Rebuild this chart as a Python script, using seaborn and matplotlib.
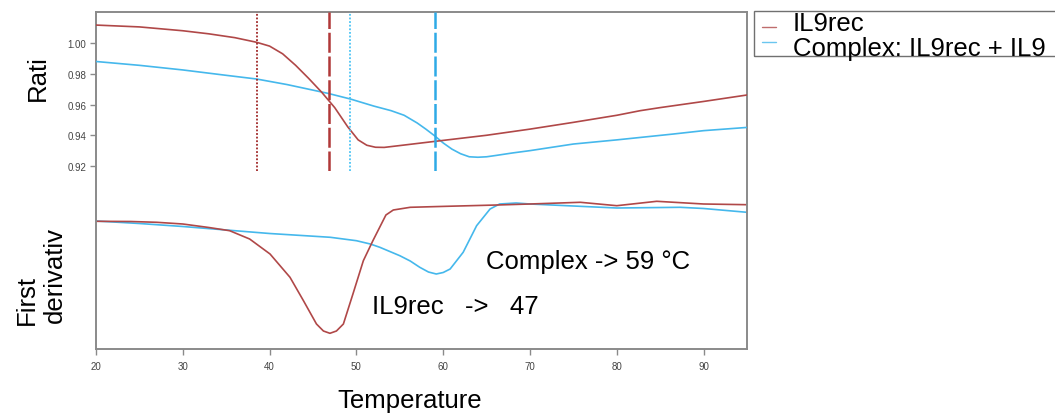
import numpy as np
import pandas as pd
import matplotlib
matplotlib.use("Agg")
import matplotlib.pyplot as plt
import seaborn as sns
from matplotlib.patches import Rectangle
from matplotlib.lines import Line2D

sns.set_theme(style="white")
plt.rcParams['font.family'] = ['Liberation Sans', 'DejaVu Sans']
plt.rcParams['text.color'] = 'black'

# ---------------- data ----------------
series_names = ["IL9rec", "Complex: IL9rec + IL9"]
series_colors = ["#b04848", "#45b8ec"]

ratio_x_il9rec = [20, 25, 30, 33, 36, 38.5, 40, 41.5, 43, 44.5, 46, 47.5, 49, 50.2,
                  51.2, 52.2, 53.2, 55, 59, 65, 70, 75, 80, 82.7, 85, 90, 95]
ratio_y_il9rec = [1.0117, 1.0105, 1.008, 1.006, 1.0035, 1.0005, 0.998, 0.993, 0.9855,
                  0.977, 0.968, 0.958, 0.9455, 0.937, 0.9335, 0.9322, 0.9321, 0.9333,
                  0.936, 0.940, 0.944, 0.9484, 0.953, 0.956, 0.958, 0.962, 0.9662]

ratio_x_complex = [20, 25, 30, 35, 38.5, 42, 46.7, 49.3, 52, 54, 55.5, 57, 58, 59, 60,
                   61, 62, 63, 64, 65, 66, 68, 70, 75, 80, 86.5, 90, 95]
ratio_y_complex = [0.988, 0.9855, 0.9825, 0.979, 0.9766, 0.973, 0.9673, 0.9636, 0.959,
                   0.956, 0.953, 0.948, 0.944, 0.9397, 0.935, 0.931, 0.928, 0.926,
                   0.9257, 0.926, 0.9268, 0.9285, 0.930, 0.9343, 0.937, 0.9408, 0.943,
                   0.9451]

deriv_x_il9rec = [20, 24, 27, 30, 33, 35.4, 37.7, 40.05, 42.35, 43.9, 45.4, 46.2, 46.95,
                  47.7, 48.5, 49.6, 50.8, 51.9, 52.7, 53.4, 54.25, 56.2, 60.4, 66.2, 70,
                  75.8, 80, 84.6, 90, 95]
deriv_y_il9rec = [-0.003, -0.005, -0.013, -0.03, -0.065, -0.097, -0.18, -0.33, -0.563,
                  -0.797, -1.03, -1.10, -1.123, -1.10, -1.03, -0.73, -0.397, -0.197,
                  -0.06, 0.06, 0.11, 0.137, 0.147, 0.16, 0.17, 0.187, 0.153, 0.197,
                  0.17, 0.163]

deriv_x_complex = [20, 25, 30, 35, 40, 45, 47, 50, 51.6, 52.7, 55, 56.2, 57.3, 58.3,
                   59.2, 60, 60.8, 62.3, 63.85, 65.4, 66.5, 68.4, 70, 75, 80, 87.3, 90, 95]
deriv_y_complex = [0.0, -0.025, -0.055, -0.09, -0.125, -0.152, -0.163, -0.197, -0.23,
                   -0.263, -0.347, -0.40, -0.463, -0.51, -0.53, -0.515, -0.48, -0.313,
                   -0.047, 0.12, 0.17, 0.18, 0.17, 0.15, 0.13, 0.137, 0.125, 0.087]

# melting points (onset dotted, Tm dashed)
onset_il9rec, tm_il9rec = 38.5, 46.8
onset_complex, tm_complex = 49.3, 59.05

annot_complex = "Complex -> 59 °C"
annot_il9rec = "IL9rec   ->   47"

x_ticks = [20, 30, 40, 50, 60, 70, 80, 90]
ratio_ticks = [0.92, 0.94, 0.96, 0.98, 1.00]

# ---------------- figure ----------------
W, H = 1055, 414
fig = plt.figure(figsize=(W / 100, H / 100), dpi=100)

def fx(px):
    return px / W

def fy(py):
    return 1 - py / H

L, R, T, B = 96, 747, 13, 350
ax = fig.add_axes([fx(L), fy(B), fx(R) - fx(L), fy(T) - fy(B)])
rt_bottom = 172
axr = fig.add_axes([fx(L), fy(rt_bottom), fx(R) - fx(L), fy(T) - fy(rt_bottom)], sharex=ax)
axr.patch.set_alpha(0)

spine_c = "#8a8a8a"
for s in ax.spines.values():
    s.set_color(spine_c)
    s.set_linewidth(1.4)
for s in axr.spines.values():
    s.set_visible(False)

# derivative curves (main axes)
df_d1 = pd.DataFrame({"x": deriv_x_il9rec, "y": deriv_y_il9rec})
df_d2 = pd.DataFrame({"x": deriv_x_complex, "y": deriv_y_complex})
sns.lineplot(data=df_d2, x="x", y="y", ax=ax, color=series_colors[1], lw=1.2)
sns.lineplot(data=df_d1, x="x", y="y", ax=ax, color=series_colors[0], lw=1.2)
ax.set_ylim(-1.28, 2.09)
ax.set_xlim(20, 95)
ax.set_yticks([])
ax.set_xticks(x_ticks)
ax.set_xticklabels([str(t) for t in x_ticks], fontsize=7, color="#444444")
ax.tick_params(axis="x", bottom=True, direction="out", length=4, width=1, color=spine_c, pad=5)
ax.set_xlabel("")
ax.set_ylabel("")

# ratio curves (overlay axes)
df_r1 = pd.DataFrame({"x": ratio_x_il9rec, "y": ratio_y_il9rec})
df_r2 = pd.DataFrame({"x": ratio_x_complex, "y": ratio_y_complex})
sns.lineplot(data=df_r2, x="x", y="y", ax=axr, color=series_colors[1], lw=1.2)
sns.lineplot(data=df_r1, x="x", y="y", ax=axr, color=series_colors[0], lw=1.2)
axr.set_ylim(0.91675, 1.0202)
axr.set_yticks(ratio_ticks)
axr.set_yticklabels([f"{t:.2f}" for t in ratio_ticks], fontsize=7, color="#444444")
axr.tick_params(axis="y", left=True, direction="out", length=4, width=1, color=spine_c, pad=3)
axr.tick_params(axis="x", bottom=False, labelbottom=False)
axr.set_xlabel("")
axr.set_ylabel("")

axr.axvline(onset_il9rec, color="#a02828", lw=1.3, ls=(0, (1, 1)))
axr.axvline(tm_il9rec, color="#b03838", lw=1.8, ls=(0, (8, 1.5)))
axr.axvline(onset_complex, color="#4cc4f4", lw=1.3, ls=(0, (1, 1)))
axr.axvline(tm_complex, color="#2eaae6", lw=1.8, ls=(0, (8, 1.5)))

# annotations
ax.text(64.9, -0.40, annot_complex, fontsize=18.5, va="center", ha="left", color="black")
ax.text(51.8, -0.85, annot_il9rec, fontsize=18.5, va="center", ha="left", color="black")

# axis labels
fig.text(fx(410), fy(401), "Temperature", fontsize=18.5, ha="center", va="center", color="black")
fig.text(fx(38), fy(78), "Rati", fontsize=18.5, ha="center", va="center", rotation=90, color="black")
fig.text(fx(27), fy(300), "First", fontsize=18.5, ha="center", va="center", rotation=90, color="black")
fig.text(fx(55), fy(275), "derivativ", fontsize=18.5, ha="center", va="center", rotation=90, color="black")

# legend (manual)
fig.add_artist(Rectangle((fx(754), fy(57)), fx(1100) - fx(754), fy(12) - fy(57),
                         transform=fig.transFigure, fill=False, edgecolor="#707070", lw=1.0))
for name, col, ly, ty in [(series_names[0], series_colors[0], 28, 24),
                          (series_names[1], series_colors[1], 43, 49)]:
    fig.add_artist(Line2D([fx(762), fx(776)], [fy(ly), fy(ly)], transform=fig.transFigure,
                          color=col, lw=1.0, alpha=0.8))
    fig.text(fx(793), fy(ty), name, fontsize=18.5, ha="left", va="center", color="black")

fig.savefig("out.png", dpi=100)
